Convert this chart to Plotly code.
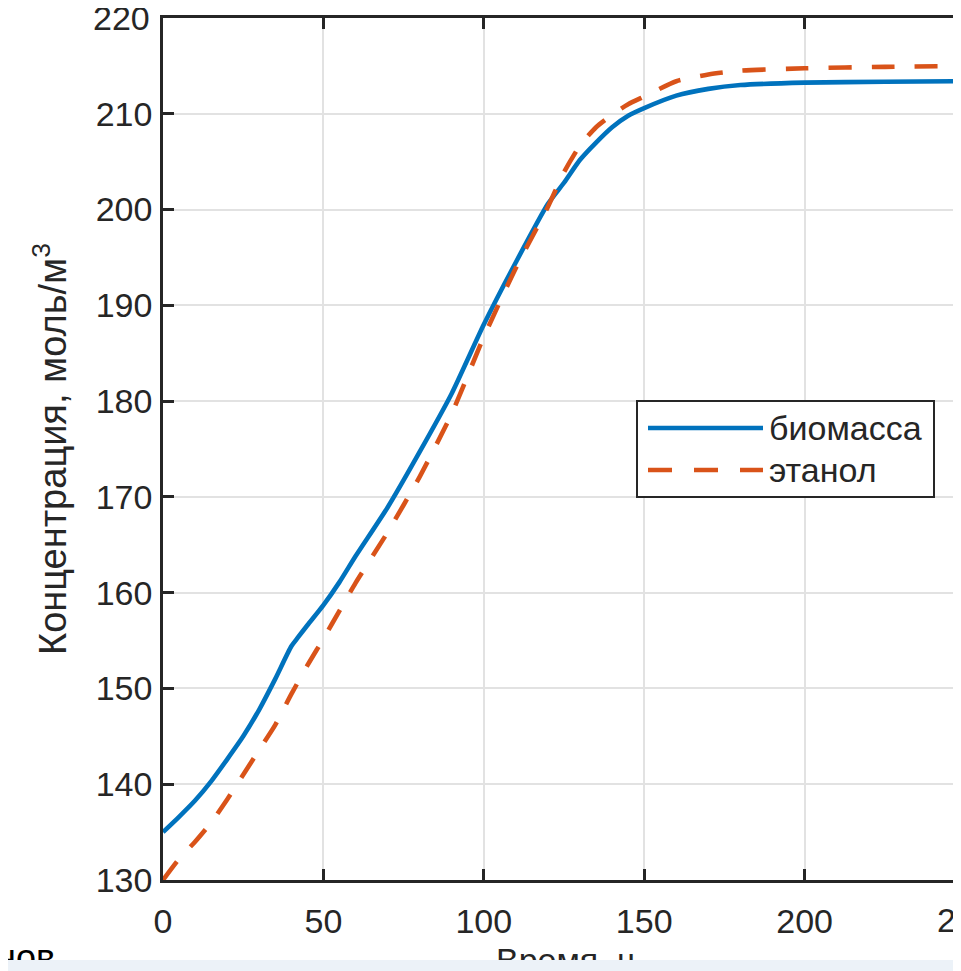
import plotly.graph_objects as go

# ---- data ----
t_bio = [0, 5, 10, 15, 20, 25, 30, 35, 40, 42, 45, 50, 55, 60, 70, 80, 90, 100, 110,
         120, 125, 130, 135, 140, 145, 150, 160, 170, 180, 200, 225, 250]
biomass = [135.0, 136.6, 138.3, 140.3, 142.6, 145.0, 147.8, 151.0, 154.4, 155.3, 156.6,
           158.7, 161.1, 163.8, 168.9, 174.7, 180.8, 188.0, 194.5, 200.6, 202.8, 205.2,
           207.0, 208.6, 209.8, 210.6, 211.9, 212.6, 213.0, 213.25, 213.35, 213.4]

t_eth = [0, 5, 10, 15, 20, 25, 30, 35, 40, 45, 50, 55, 60, 70, 80, 90, 100, 110, 120,
         125, 130, 135, 140, 145, 150, 160, 170, 180, 200, 225, 250]
ethanol = [130.0, 132.2, 134.0, 136.0, 138.4, 141.0, 143.6, 146.2, 149.4, 152.4, 155.2,
           158.1, 161.0, 166.3, 172.1, 178.7, 186.7, 193.9, 200.3, 203.9, 206.7, 208.6,
           209.9, 211.0, 211.8, 213.4, 214.1, 214.5, 214.75, 214.9, 215.0]

x_ticks = [0, 50, 100, 150, 200]
x_cut_tick = 250
y_ticks = [130, 140, 150, 160, 170, 180, 190, 200, 210, 220]
y_top_tick = 220
names = ["биомасса", "этанол"]
x_title = "Время, ч"
y_title = "Концентрация, моль/м<sup>3</sup>"

# ---- layout geometry (page pixels; the page body adds an 8 px offset) ----
OFF = 8
PAGE_W, PAGE_H = 961, 971
W, H = PAGE_W - OFF, PAGE_H - OFF
L, R, T = 163 - OFF, 0, 18 - OFF
B = H - (880 - OFF)
PW = W - L - R
PH = H - T - B
PX_PER_UNIT = 3.208
X_MAX = PW / PX_PER_UNIT

def px(xp):
    return (xp - OFF - L) / PW

def py(yp):
    return (H - B - (yp - OFF)) / PH

BLUE = "#0072BD"
ORANGE = "#D95319"
FONT = "Liberation Sans, Arial, sans-serif"
TXT = "#262626"
FS = 34
LW = 4.6

fig = go.Figure()
fig.add_trace(go.Scatter(x=t_bio, y=biomass, mode="lines", name=names[0],
                         line=dict(color=BLUE, width=LW, shape="spline", smoothing=0.6),
                         showlegend=False))
fig.add_trace(go.Scatter(x=t_eth, y=ethanol, mode="lines", name=names[1],
                         line=dict(color=ORANGE, width=LW, dash="23px,20px",
                                   shape="spline", smoothing=0.6),
                         showlegend=False))
fig.add_trace(go.Scatter(x=[None], y=[None], yaxis="y2", showlegend=False,
                         hoverinfo="skip"))

fig.update_layout(
    width=W, height=H,
    margin=dict(l=L, r=R, t=T, b=B, pad=0),
    paper_bgcolor="white", plot_bgcolor="white",
    font=dict(family=FONT, size=FS, color=TXT),
    xaxis=dict(range=[0, X_MAX], tickvals=x_ticks, ticks="inside", ticklen=11,
               tickwidth=2.5, tickcolor="#262626", showline=True, linewidth=2.5,
               linecolor="#262626", mirror="ticks", showgrid=True, gridcolor="#e2e2e2",
               gridwidth=2, zeroline=False, tickfont=dict(size=FS, color=TXT),
               ticklabelstandoff=9),
    yaxis=dict(range=[130, 220.001], tickvals=y_ticks, ticks="inside", ticklen=11,
               tickwidth=2.5, tickcolor="#262626", showline=True, linewidth=2.5,
               linecolor="#262626", mirror=False, showgrid=True, gridcolor="#e2e2e2",
               gridwidth=2, zeroline=False, tickfont=dict(size=FS, color=TXT),
               ticklabelstandoff=1),
    yaxis2=dict(overlaying="y", side="right", range=[0, 6], dtick=1, ticks="inside",
                ticklen=8, tickwidth=2.5, tickcolor=ORANGE, showticklabels=False,
                showgrid=False, showline=False, zeroline=False),
)

shapes = []
# legend box
shapes.append(dict(type="rect", xref="paper", yref="paper", x0=px(637), x1=px(934),
                   y0=py(497), y1=py(401), line=dict(color="#262626", width=2),
                   fillcolor="white", layer="above"))
shapes.append(dict(type="line", xref="paper", yref="paper", x0=px(648), x1=px(763),
                   y0=py(428), y1=py(428), line=dict(color=BLUE, width=LW), layer="above"))
shapes.append(dict(type="line", xref="paper", yref="paper", x0=px(648), x1=px(763),
                   y0=py(470), y1=py(470), line=dict(color=ORANGE, width=LW,
                                                      dash="24px,22px"), layer="above"))
fig.update_layout(shapes=shapes)

ann = []
ann.append(dict(text=names[0], xref="paper", yref="paper", x=px(767), y=py(428),
                xanchor="left", yanchor="middle", showarrow=False,
                font=dict(size=FS, color=TXT, family=FONT)))
ann.append(dict(text=names[1], xref="paper", yref="paper", x=px(767), y=py(470),
                xanchor="left", yanchor="middle", showarrow=False,
                font=dict(size=FS, color=TXT, family=FONT)))
# tick labels that plotly drops at the figure edges
ann.append(dict(text=str(x_cut_tick), xref="paper", yref="paper",
                x=x_cut_tick / X_MAX, y=py(920), xanchor="center", yanchor="middle",
                showarrow=False, font=dict(size=FS, color=TXT, family=FONT)))
ann.append(dict(text=str(y_top_tick), xref="paper", yref="y", x=px(151), y=y_top_tick,
                xanchor="right", yanchor="middle", showarrow=False, borderpad=0,
                font=dict(size=FS, color=TXT, family=FONT)))
# axis titles
ann.append(dict(text=y_title, xref="paper", yref="paper", x=px(50), y=py(449),
                xanchor="center", yanchor="middle", textangle=-90, showarrow=False,
                font=dict(size=38, color=TXT, family=FONT)))
ann.append(dict(text=x_title, xref="paper", yref="paper", x=px(565), y=py(960),
                xanchor="center", yanchor="middle", showarrow=False,
                font=dict(size=FS, color=TXT, family=FONT)))
ann.append(dict(text="нов", xref="paper", yref="paper", x=px(57), y=py(957),
                xanchor="right", yanchor="middle", showarrow=False,
                font=dict(size=36, color="black", family=FONT)))
# window border strips
STRIP = "#ecf2f8"
ann.append(dict(text=" ", xref="paper", yref="paper", x=px(PAGE_W / 2), y=py(966),
                xanchor="center", yanchor="middle", showarrow=False, width=PAGE_W + 4,
                height=12, bgcolor=STRIP, borderpad=0, borderwidth=0,
                font=dict(size=1)))
ann.append(dict(text=" ", xref="paper", yref="paper", x=px(959.5), y=py(PAGE_H / 2),
                xanchor="center", yanchor="middle", showarrow=False, width=4,
                height=PAGE_H + 4, bgcolor=STRIP, borderpad=0, borderwidth=0,
                font=dict(size=1)))
fig.update_layout(annotations=ann)

fig.write_html("out.html")
